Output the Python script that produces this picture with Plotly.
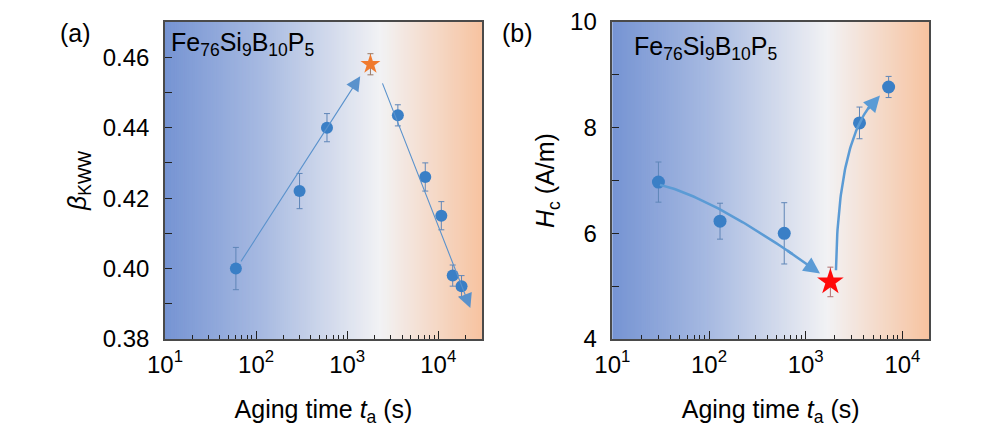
import numpy as np
import plotly.graph_objects as go

# ---------------- data ----------------
# panel (a): beta_KWW vs aging time
ta_a = [60, 300, 600, 3600, 7200, 10800, 14400, 18000]
beta_a = [0.400, 0.422, 0.440, 0.4435, 0.426, 0.415, 0.398, 0.395]
beta_err = [0.006, 0.005, 0.004, 0.003, 0.004, 0.004, 0.003, 0.003]
star_a_t = [1800]
star_a_v = [0.458]
star_a_err = [0.003]

# panel (b): Hc vs aging time
ta_b = [30, 130, 600, 3600, 7200]
hc_b = [6.97, 6.23, 6.00, 8.09, 8.77]
hc_err = [0.38, 0.34, 0.58, 0.30, 0.20]
star_b_t = [1800]
star_b_v = [5.08]
star_b_err = [0.28]

xtick_vals = [10, 100, 1000, 10000]
xtick_text = ["10<sup>1</sup>", "10<sup>2</sup>", "10<sup>3</sup>", "10<sup>4</sup>"]
ytick_a = [0.38, 0.40, 0.42, 0.44, 0.46]
ytick_b = [4, 6, 8, 10]

# guide arrows (log10 x, y): tail -> head
arrows_a = [((1.824, 0.4016), (3.143, 0.4546)), ((3.381, 0.4530), (4.352, 0.3888))]
# curved guides in panel (b): quadratic Bezier control points (log10 x, y)
curves_b = [[(1.493, 6.918), (2.062, 6.671), (3.148, 5.242)],
            [(3.313, 5.30), (3.334, 7.96), (3.768, 8.61)]]

FONT = "Arial, Liberation Sans, sans-serif"
# the page body has an 8px margin: the figure is sized to fit the 1000x446 window
OFF = 8
W, H = 1000 - 2 * OFF, 446 - 2 * OFF


def px(x):
    return (x - OFF) / W


def py(y):
    return 1 - (y - OFF) / H


dom_a = [px(165), px(482)]
dom_b = [px(612.3), px(929)]
dom_y = [py(339), py(22)]

fig = go.Figure()

# ---------------- gradient backgrounds ----------------
stops = [(0.0, (118, 148, 211)), (0.30, (166, 185, 225)), (0.68, (242, 242, 244)), (1.0, (247, 195, 160))]


def grad(f):
    for (f0, c0), (f1, c1) in zip(stops[:-1], stops[1:]):
        if f0 <= f <= f1:
            t = (f - f0) / (f1 - f0)
            return "rgb(%d,%d,%d)" % tuple(round(a + (b - a) * t) for a, b in zip(c0, c1))
    return "rgb(%d,%d,%d)" % stops[-1][1]


N = 160
shapes = []
for xr, yr in (("x", "y"), ("x2", "y2")):
    for i in range(N):
        f0, f1 = i / N, (i + 1.6) / N
        shapes.append(dict(type="rect", xref=xr + " domain", yref=yr + " domain",
                           x0=f0, x1=min(f1, 1), y0=0, y1=1, line=dict(width=0),
                           fillcolor=grad((i + 0.5) / N), layer="below"))

# ---------------- traces ----------------
blue = "#3a7fc6"
ebar = "#5f86b8"

fig.add_trace(go.Scatter(x=ta_a, y=beta_a, mode="markers", xaxis="x", yaxis="y",
                         marker=dict(color=blue, size=12),
                         error_y=dict(type="data", array=beta_err, color=ebar, thickness=1, width=3),
                         showlegend=False))
fig.add_trace(go.Scatter(x=star_a_t, y=star_a_v, mode="markers", xaxis="x", yaxis="y",
                         marker=dict(color="#f07a2e", size=15, symbol="star"),
                         error_y=dict(type="data", array=star_a_err, color="#9a7a66", thickness=1, width=3),
                         showlegend=False))

fig.add_trace(go.Scatter(x=ta_b, y=hc_b, mode="markers", xaxis="x2", yaxis="y2",
                         marker=dict(color=blue, size=13),
                         error_y=dict(type="data", array=hc_err, color=ebar, thickness=1, width=3),
                         showlegend=False))
fig.add_trace(go.Scatter(x=star_b_t, y=star_b_v, mode="markers", xaxis="x2", yaxis="y2",
                         marker=dict(color="#ff0a0a", size=20, symbol="star"),
                         error_y=dict(type="data", array=star_b_err, color="#b07070", thickness=1, width=3),
                         showlegend=False))

annotations = []
acol_a = "#5a92cc"
for (tx, ty), (hx, hy) in arrows_a:
    annotations.append(dict(x=hx, y=hy, ax=tx, ay=ty, xref="x", yref="y", axref="x", ayref="y",
                            text="", showarrow=True, arrowhead=2, arrowsize=2.6, arrowwidth=1.1,
                            arrowcolor=acol_a, standoff=0))

acol_b = "#5b9bd5"
for p0, p1, p2 in curves_b:
    t = np.linspace(0, 1, 60)
    lx = (1 - t) ** 2 * p0[0] + 2 * t * (1 - t) * p1[0] + t ** 2 * p2[0]
    ly = (1 - t) ** 2 * p0[1] + 2 * t * (1 - t) * p1[1] + t ** 2 * p2[1]
    cut = 52
    fig.add_trace(go.Scatter(x=10 ** lx[:cut], y=ly[:cut], mode="lines", xaxis="x2", yaxis="y2",
                             line=dict(color=acol_b, width=2.5), hoverinfo="skip", showlegend=False))
    annotations.append(dict(x=lx[-1], y=ly[-1], ax=lx[cut - 3], ay=ly[cut - 3], xref="x2", yref="y2",
                            axref="x2", ayref="y2", text="", showarrow=True, arrowhead=2,
                            arrowsize=1.3, arrowwidth=2.5, arrowcolor=acol_b, standoff=0))

FS = 25
# text annotations
annotations += [
    dict(x=px(75), y=py(33), xref="paper", yref="paper", text="(a)", showarrow=False,
         font=dict(size=FS, color="black", family=FONT), xanchor="center", yanchor="middle"),
    dict(x=px(517), y=py(33), xref="paper", yref="paper", text="(b)", showarrow=False,
         font=dict(size=FS, color="black", family=FONT), xanchor="center", yanchor="middle"),
    dict(x=px(169), y=py(44), xref="paper", yref="paper",
         text="Fe<sub>76</sub>Si<sub>9</sub>B<sub>10</sub>P<sub>5</sub>", showarrow=False,
         font=dict(size=FS, color="black", family=FONT), xanchor="left", yanchor="middle"),
    dict(x=px(632), y=py(48), xref="paper", yref="paper",
         text="Fe<sub>76</sub>Si<sub>9</sub>B<sub>10</sub>P<sub>5</sub>", showarrow=False,
         font=dict(size=FS, color="black", family=FONT), xanchor="left", yanchor="middle"),
]


def xax(dom, rng, anchor, minor_vals):
    return dict(domain=dom, type="log", range=rng, anchor=anchor, automargin=False,
                tickvals=xtick_vals, ticktext=xtick_text, ticks="inside", ticklen=8, tickwidth=1.2,
                tickcolor="#222", showline=True, linecolor="#4a4a4a", linewidth=1.5, mirror=True,
                showgrid=False, zeroline=False, tickfont=dict(size=24, color="black", family=FONT),
                ticklabelstandoff=3,
                minor=dict(tickvals=minor_vals, ticks="inside", ticklen=4, tickwidth=1, tickcolor="#222",
                           showgrid=False),
                title=dict(text="Aging time <i>t</i><sub>a</sub> (s)", font=dict(size=FS, color="black", family=FONT),
                           standoff=24))


def yax(dom, rng, anchor, tvals, ttext, dtick_minor, title, standoff):
    return dict(domain=dom, range=rng, anchor=anchor, tickvals=tvals, ticktext=ttext, automargin=False,
                ticks="inside", ticklen=7, tickwidth=1.2, tickcolor="#222",
                showline=True, linecolor="#4a4a4a", linewidth=1.5, mirror=True,
                showgrid=False, zeroline=False, tickfont=dict(size=24, color="black", family=FONT),
                ticklabelstandoff=9,
                minor=dict(dtick=dtick_minor, ticks="inside", ticklen=7, tickwidth=1, tickcolor="#222",
                           showgrid=False),
                title=dict(text=title, font=dict(size=FS, color="black", family=FONT), standoff=standoff))


minor_a = [m * 10 ** d for d in range(1, 5) for m in range(2, 10) if m * 10 ** d < 30000]
minor_b = [m * 10 ** d for d in range(1, 5) for m in range(2, 10) if m * 10 ** d < 19000]

fig.update_layout(
    width=W, height=H, autosize=False,
    margin=dict(l=0, r=0, t=0, b=0),
    paper_bgcolor="white", plot_bgcolor="white",
    font=dict(family=FONT, color="black"),
    xaxis=xax(dom_a, [1, 4.48], "y", minor_a),
    yaxis=yax(dom_y, [0.38, 0.47], "x", ytick_a, ["%.2f" % v for v in ytick_a], 0.01,
              "<i>β</i><sub>KWW</sub>", 9),
    xaxis2=xax(dom_b, [1, 4.275], "y2", minor_b),
    yaxis2=yax(dom_y, [4, 10], "x2", ytick_b, [str(v) for v in ytick_b], 1,
               "<i>H</i><sub>c</sub> (A/m)", 8),
    shapes=shapes,
    annotations=annotations,
)

fig.write_html("out.html")
